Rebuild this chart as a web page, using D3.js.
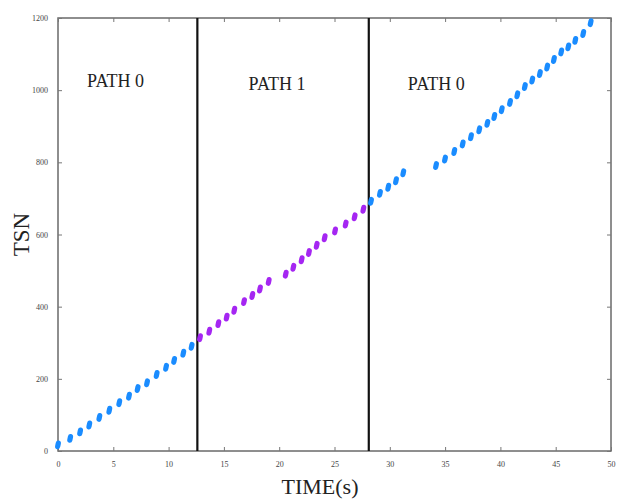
<!DOCTYPE html>
<html lang="en">
  <head>
    <title>TSN vs time</title>
    <meta charset="utf-8">
    <script src="https://cdn.jsdelivr.net/npm/d3@7"></script>
  </head>
  <style>
    body, html {
      margin: 0;
      padding: 0;
      background: #fff;
    }
    svg {
      display: block;
      font-family: "Liberation Serif", "DejaVu Serif", serif;
    }
  </style>
  <body>
    <svg width="619" height="501"></svg>
  </body>
  <script>

    // path 0, first stretch (time s, tsn)
    const path0aTime = [0, 1.1, 2.0, 2.83, 3.74, 4.64, 5.54, 6.42, 7.2, 8.05, 8.92, 9.77, 10.5, 11.33, 12.08]
    const path0aTsn  = [17, 35, 53, 72, 93, 113, 134, 152, 173, 189, 212, 232, 251, 271, 290]

    // path 1
    const path1Time = [12.84, 13.68, 14.5, 15.25, 15.94, 16.82, 17.57, 18.26, 19.05, 20.59, 21.28, 22.03, 22.69, 23.39, 24.11, 25.05, 26.01, 26.82, 27.61]
    const path1Tsn  = [314, 332, 353, 371, 390, 414, 431, 449, 470, 490, 509, 530, 550, 570, 591, 610, 629, 649, 670]

    // path 0 again after the switch back
    const path0bTime = [28.3, 29.11, 29.86, 30.56, 31.22, 34.18, 34.99, 35.83, 36.59, 37.34, 38.09, 38.82, 39.45, 40.12, 40.87, 41.53, 42.21, 42.88, 43.57, 44.23, 44.84, 45.5, 46.14, 46.77, 47.49, 48.16]
    const path0bTsn  = [692, 714, 731, 749, 771, 791, 809, 830, 851, 871, 890, 908, 927, 946, 966, 987, 1010, 1028, 1046, 1064, 1085, 1106, 1120, 1138, 1157, 1187]

    const switchTimes = [12.6, 28.1]
    const pathLabels = [
      { text: 'PATH 0', t: 5.2, dy: 0 },
      { text: 'PATH 1', t: 19.8, dy: 3 },
      { text: 'PATH 0', t: 34.2, dy: 3 }
    ]
    const xTicks = [0, 5, 10, 15, 20, 25, 30, 35, 40, 45, 50]
    const yTicks = [0, 200, 400, 600, 800, 1000, 1200]

    const svg = d3.select('svg')
    const plotLeft = 58, plotRight = 611, plotTop = 18, plotBottom = 451

    const x = d3.scaleLinear().domain([0, 50]).range([plotLeft, plotRight])
    const y = d3.scaleLinear().domain([0, 1200]).range([plotBottom, plotTop])

    // frame
    svg.append('rect')
      .attr('x', plotLeft)
      .attr('y', plotTop)
      .attr('width', plotRight - plotLeft)
      .attr('height', plotBottom - plotTop)
      .attr('fill', 'none')
      .attr('stroke', '#6a6a6a')
      .attr('stroke-width', 1.5)

    // axes with ticks pointing inward
    const xAxis = svg.append('g')
      .attr('transform', 'translate(0,' + plotBottom + ')')
      .call(d3.axisBottom(x).tickValues(xTicks).tickFormat(d3.format('d')).tickSizeInner(-4).tickSizeOuter(0).tickPadding(10))
    const xAxisTop = svg.append('g')
      .attr('transform', 'translate(0,' + plotTop + ')')
      .call(d3.axisTop(x).tickValues(xTicks).tickSizeInner(-4).tickSizeOuter(0).tickFormat(''))
    const yAxis = svg.append('g')
      .attr('transform', 'translate(' + plotLeft + ',0)')
      .call(d3.axisLeft(y).tickValues(yTicks).tickFormat(d3.format('d')).tickSizeInner(-4).tickSizeOuter(0).tickPadding(10))
    const yAxisRight = svg.append('g')
      .attr('transform', 'translate(' + plotRight + ',0)')
      .call(d3.axisRight(y).tickValues(yTicks).tickSizeInner(-4).tickSizeOuter(0).tickFormat(''))

    ;[xAxis, xAxisTop, yAxis, yAxisRight].forEach(function(a) {
      a.select('.domain').remove()
      a.selectAll('line').attr('stroke', '#777')
      a.selectAll('text')
        .attr('font-family', '"Liberation Serif", serif')
        .attr('font-size', 8)
        .attr('fill', '#444')
    })

    // path switch lines
    svg.selectAll('.switch')
      .data(switchTimes)
      .enter().append('line')
      .attr('class', 'switch')
      .attr('x1', d => x(d))
      .attr('x2', d => x(d))
      .attr('y1', plotTop)
      .attr('y2', plotBottom)
      .attr('stroke', '#111')
      .attr('stroke-width', 2.2)

    // path labels
    svg.selectAll('.pathLabel')
      .data(pathLabels)
      .enter().append('text')
      .attr('class', 'pathLabel')
      .attr('x', d => x(d.t))
      .attr('y', d => 87 + d.dy)
      .attr('text-anchor', 'middle')
      .attr('font-size', 18)
      .attr('fill', '#222')
      .text(d => d.text)

    // points
    const drawPoints = function(times, tsns, color) {
      const pts = times.map((t, i) => ({ t: t, v: tsns[i] }))
      svg.append('g').selectAll('rect')
        .data(pts)
        .enter().append('rect')
        .attr('x', d => x(d.t) - 2.6)
        .attr('y', d => y(d.v) - 4.5)
        .attr('width', 5.2)
        .attr('height', 9)
        .attr('rx', 2.6)
        .attr('ry', 3)
        .attr('fill', color)
        .attr('transform', d => 'rotate(12 ' + x(d.t) + ' ' + y(d.v) + ')')
    }

    drawPoints(path0aTime, path0aTsn, '#1a8cff')
    drawPoints(path1Time, path1Tsn, '#a526f2')
    drawPoints(path0bTime, path0bTsn, '#1a8cff')

    // axis titles
    svg.append('text')
      .attr('x', 320)
      .attr('y', 494)
      .attr('text-anchor', 'middle')
      .attr('font-size', 22)
      .attr('fill', '#222')
      .text('TIME(s)')

    svg.append('text')
      .attr('transform', 'translate(29,' + ((plotTop + plotBottom) / 2) + ') rotate(-90)')
      .attr('text-anchor', 'middle')
      .attr('font-size', 23)
      .attr('fill', '#222')
      .text('TSN')
  </script>
</html>
